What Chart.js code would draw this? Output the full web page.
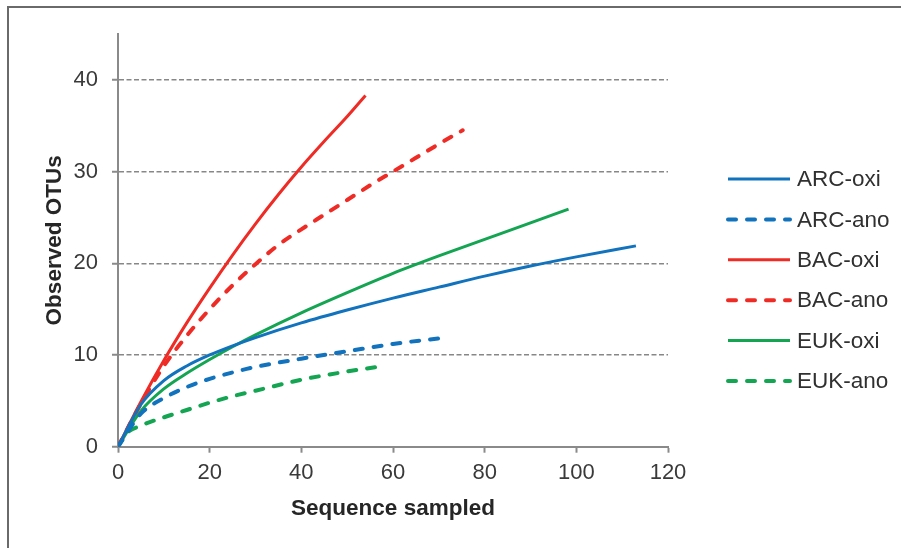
<!DOCTYPE html>
<html>
<head>
<meta charset="utf-8">
<script src="https://cdn.jsdelivr.net/npm/chart.js@4"></script>
<style>
  body { margin: 0; background: #fff; }
  .wrap { position: relative; width: 901px; height: 548px; }
  .frame { position: absolute; left: 7px; top: 6px; right: 0; bottom: 0;
           border-left: 2px solid #6a6a6a; border-top: 2px solid #6a6a6a; }
  canvas { position: absolute; left: 0; top: 0; }
</style>
</head>
<body>
<div class="wrap">
  <div class="frame"></div>
  <canvas id="chart" width="901" height="548"></canvas>
</div>
<script>
// Series data
const seriesNames = ["ARC-oxi", "ARC-ano", "BAC-oxi", "BAC-ano", "EUK-oxi", "EUK-ano"];

const arcOxiX = [0, 5, 10, 15, 20, 25, 30, 40, 50, 60, 70, 80, 90, 100, 113];
const arcOxiY = [0, 4.6, 7.2, 8.8, 10.0, 11.0, 11.9, 13.5, 14.9, 16.2, 17.4, 18.6, 19.7, 20.7, 21.9];

const arcAnoX = [0, 5, 10, 15, 20, 25, 30, 40, 50, 60, 71.5];
const arcAnoY = [0, 3.6, 5.3, 6.5, 7.4, 8.1, 8.7, 9.6, 10.4, 11.2, 11.9];

const bacOxiX = [0, 5, 10, 15, 20, 25, 30, 35, 40, 45, 50, 54];
const bacOxiY = [0, 4.9, 9.4, 13.5, 17.3, 20.9, 24.3, 27.5, 30.5, 33.3, 36.0, 38.3];

const bacAnoX = [0, 5, 10, 15, 20, 25, 30, 35, 40, 45, 50, 55, 60, 65, 70, 75.2];
const bacAnoY = [0, 4.7, 8.8, 12.1, 15.0, 17.6, 19.9, 22.0, 23.7, 25.3, 26.9, 28.5, 30.0, 31.5, 33.0, 34.5];

const eukOxiX = [0, 5, 10, 15, 20, 25, 30, 40, 50, 60, 70, 80, 90, 98.3];
const eukOxiY = [0, 3.9, 6.3, 8.0, 9.5, 10.9, 12.2, 14.6, 16.8, 18.9, 20.8, 22.6, 24.4, 25.9];

const eukAnoX = [0, 2, 5, 10, 15, 20, 25, 30, 40, 50, 58];
const eukAnoY = [0, 1.5, 2.3, 3.2, 4.0, 4.8, 5.5, 6.1, 7.3, 8.2, 8.8];

const xTicks = [0, 20, 40, 60, 80, 100, 120];
const yTicks = [0, 10, 20, 30, 40];

const BLUE = "#1172bd";
const RED = "#ee2c25";
const GREEN = "#14a552";
const FONT = "'Liberation Sans', Arial, sans-serif";

function pts(xs, ys) {
  return xs.map((x, i) => ({ x: x, y: ys[i] }));
}

function series(name, xs, ys, color, dashed) {
  return {
    label: name,
    data: pts(xs, ys),
    borderColor: color,
    backgroundColor: color,
    borderWidth: dashed ? 4 : 3,
    borderDash: dashed ? [8, 11] : [],
    borderCapStyle: dashed ? "round" : "butt",
    pointRadius: 0,
    fill: false,
    cubicInterpolationMode: "monotone"
  };
}

// legend drawn at the right like the original
const sideLegend = {
  id: "sideLegend",
  afterDraw(chart) {
    const ctx = chart.ctx;
    ctx.save();
    chart.data.datasets.forEach((ds, i) => {
      const y = 179 + i * 40.4;
      ctx.beginPath();
      ctx.strokeStyle = ds.borderColor;
      ctx.lineWidth = ds.borderWidth;
      ctx.lineCap = ds.borderCapStyle;
      ctx.setLineDash(ds.borderDash);
      ctx.moveTo(728, y);
      ctx.lineTo(790, y);
      ctx.stroke();
      ctx.setLineDash([]);
      ctx.fillStyle = "#303030";
      ctx.font = "22.5px " + FONT;
      ctx.textBaseline = "middle";
      ctx.fillText(ds.label, 797, y + 1);
    });
    ctx.restore();
  }
};

new Chart(document.getElementById("chart"), {
  type: "line",
  data: {
    datasets: [
      series(seriesNames[0], arcOxiX, arcOxiY, BLUE, false),
      series(seriesNames[1], arcAnoX, arcAnoY, BLUE, true),
      series(seriesNames[2], bacOxiX, bacOxiY, RED, false),
      series(seriesNames[3], bacAnoX, bacAnoY, RED, true),
      series(seriesNames[4], eukOxiX, eukOxiY, GREEN, false),
      series(seriesNames[5], eukAnoX, eukAnoY, GREEN, true)
    ]
  },
  options: {
    responsive: false,
    animation: false,
    devicePixelRatio: 1,
    layout: { padding: { left: 0, right: 233, top: 34, bottom: 0 } },
    plugins: {
      legend: { display: false },
      tooltip: { enabled: false }
    },
    scales: {
      x: {
        type: "linear",
        min: 0,
        max: 120,
        afterFit: s => { s.height = 101.3; },
        afterBuildTicks: s => { s.ticks = xTicks.map(v => ({ value: v })); },
        grid: { drawOnChartArea: false, drawTicks: true, tickLength: 6, tickColor: "#8a8a8a", tickWidth: 2 },
        border: { display: true, color: "#8a8a8a", width: 2 },
        ticks: { color: "#3a3a3a", font: { family: FONT, size: 22 }, padding: 7, maxRotation: 0 },
        title: {
          display: true,
          text: "Sequence sampled",
          color: "#262626",
          font: { family: FONT, size: 22.5, weight: "bold" },
          padding: { top: 0, bottom: 26 }
        }
      },
      y: {
        min: 0,
        max: 45,
        afterFit: s => { s.width = 118; },
        afterBuildTicks: s => { s.ticks = yTicks.map(v => ({ value: v })); },
        grid: {
          drawOnChartArea: true,
          drawTicks: true,
          tickLength: 6,
          color: ctx => (ctx.tick && ctx.tick.value === 0 ? "rgba(0,0,0,0)" : "#878787"),
          lineWidth: 1.5,
          tickColor: "#8a8a8a",
          tickWidth: 2
        },
        border: { display: true, color: "#8a8a8a", width: 2, dash: [5, 2.5] },
        ticks: { color: "#3a3a3a", font: { family: FONT, size: 22 }, padding: 14 },
        title: {
          display: true,
          text: "Observed OTUs",
          color: "#262626",
          font: { family: FONT, size: 22.5, weight: "bold" },
          padding: { top: 41, bottom: 0 }
        }
      }
    }
  },
  plugins: [sideLegend]
});
</script>
</body>
</html>
